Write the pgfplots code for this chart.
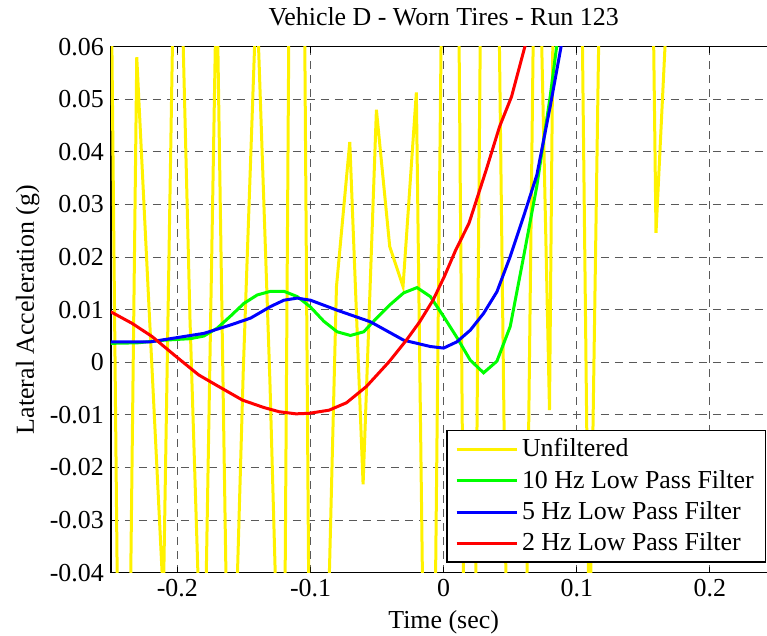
\documentclass[border=0pt]{standalone}
\usepackage{fontspec}
\setmainfont{Liberation Serif}
\usepackage{pgfplots}
\usepackage{pgfplotstable}
\pgfplotsset{compat=1.18}

% raw signal, sampled every 0.01 s
\pgfplotstableread{
t v
-0.2505 0.094
-0.2405 -0.16
-0.2305 0.058
-0.2205 0.0063
-0.2105 -0.045
-0.2005 0.11
-0.1905 0.008
-0.1805 -0.073
-0.1705 0.075
-0.1605 -0.09
-0.1505 -0.0016
-0.1405 0.071
-0.1305 -0.0035
-0.1205 -0.095
-0.1105 0.28
-0.1005 -0.073
-0.0905 -0.088
-0.0805 0.0144
-0.0705 0.0419
-0.0605 -0.0232
-0.0505 0.048
-0.0405 0.022
-0.0305 0.0144
-0.0205 0.0513
-0.0105 -0.15
-0.0005 0.096
0.0095 0.1246
0.0195 -0.18
0.0295 0.122
0.0395 0.11
0.0495 -0.0975
0.0595 -0.1075
0.0695 0.11
0.0795 -0.0091
0.0895 0.2695
0.0995 0.168
0.1095 -0.058
0.1195 0.113
0.1295 0.15
0.1395 0.12
0.1495 0.23
0.1595 0.0246
0.1695 0.077
0.1795 0.12
0.1895 0.15
0.1995 0.10
0.2095 0.14
0.2195 0.11
0.2295 0.16
0.2395 0.12
0.2495 0.13
}\rawdata

\pgfplotstableread{
t v
-0.25 0.0036
-0.23 0.0037
-0.21 0.0042
-0.19 0.0045
-0.18 0.0050
-0.17 0.0065
-0.16 0.0088
-0.15 0.0112
-0.14 0.0128
-0.13 0.0135
-0.12 0.0135
-0.11 0.0125
-0.10 0.0105
-0.09 0.0078
-0.08 0.0058
-0.07 0.0051
-0.06 0.0058
-0.05 0.0085
-0.04 0.0110
-0.03 0.0132
-0.02 0.0142
-0.01 0.0125
0.00 0.0087
0.01 0.0047
0.02 0.0004
0.03 -0.0020
0.04 0.0002
0.05 0.0068
0.06 0.0200
0.07 0.0335
0.08 0.0505
0.09 0.0700
}\tenhz

\pgfplotstableread{
t v
-0.25 0.0039
-0.22 0.0039
-0.20 0.0047
-0.18 0.0055
-0.16 0.0071
-0.145 0.0084
-0.13 0.0106
-0.12 0.0118
-0.11 0.0122
-0.10 0.0118
-0.08 0.0099
-0.055 0.0077
-0.03 0.0042
-0.01 0.0030
0.00 0.0027
0.01 0.0039
0.02 0.0061
0.03 0.0093
0.04 0.0134
0.05 0.0201
0.06 0.0277
0.07 0.0356
0.08 0.0486
0.09 0.0625
0.10 0.0780
}\fivehz

\pgfplotstableread{
t v
-0.25 0.0096
-0.234 0.0074
-0.219 0.0049
-0.201 0.0011
-0.184 -0.0024
-0.169 -0.0046
-0.151 -0.0072
-0.135 -0.0086
-0.1235 -0.0094
-0.111 -0.0098
-0.101 -0.0097
-0.086 -0.0091
-0.073 -0.0077
-0.058 -0.0046
-0.041 0.0001
-0.028 0.0042
-0.018 0.0077
-0.008 0.0118
0.0005 0.0163
0.009 0.0213
0.019 0.0264
0.032 0.0366
0.042 0.0448
0.051 0.0505
0.061 0.0600
0.071 0.0690
}\twohz

\begin{document}
\begin{tikzpicture}
\begin{axis}[
    name=ax,
    scale only axis,
    width=332.85bp, height=263bp,
    xmin=-0.25, xmax=0.25,
    ymin=-0.04, ymax=0.06,
    xtick={-0.2,-0.1,0,0.1,0.2},
    ytick={-0.04,-0.03,-0.02,-0.01,0,0.01,0.02,0.03,0.04,0.05,0.06},
    scaled ticks=false,
    /pgf/number format/fixed,
    /pgf/number format/assume math mode=true,
    font=\fontsize{13}{15.6}\selectfont,
    tick align=inside,
    major tick length=3bp,
    tick style={black, line width=0.5bp},
    axis line style={line width=0.8bp},
    grid=major,
    major grid style={black!65, line width=0.5bp, dash pattern=on 4bp off 3bp},
    title={Vehicle D - Worn Tires - Run 123},
    title style={at={([yshift=9bp]axis description cs:0.5,1)}, anchor=center},
    xlabel={Time (sec)},
    xlabel style={at={([yshift=-24.6bp]axis description cs:0.5,0)}, anchor=center},
    ylabel={Lateral Acceleration (g)},
    ylabel style={at={([xshift=-41.5bp]axis description cs:0,0.5)}, anchor=center, rotate=0},
    legend cell align=left,
    legend style={at={(1,0)}, anchor=south east, xshift=-5bp, yshift=5bp,
        draw=black, line width=0.8bp, inner xsep=4bp, inner ysep=2bp,
        row sep=1.2bp,
        font=\fontsize{13}{15.6}\selectfont},
    legend image code/.code={\draw[#1] (0bp,0bp) -- (30bp,0bp);},
    every axis plot/.append style={line width=1.5bp},
]
\addplot[yellow, no markers] table[x=t, y=v] {\rawdata};
\addplot[green, no markers] table[x=t, y=v] {\tenhz};
\addplot[blue, no markers] table[x=t, y=v] {\fivehz};
\addplot[red, no markers] table[x=t, y=v] {\twohz};
\legend{Unfiltered, 10 Hz Low Pass Filter, 5 Hz Low Pass Filter, 2 Hz Low Pass Filter}
\end{axis}
\pgfresetboundingbox
\path[use as bounding box] (-55.4bp,-31.65bp) rectangle (328.1bp,286.35bp);
\end{tikzpicture}
\end{document}
